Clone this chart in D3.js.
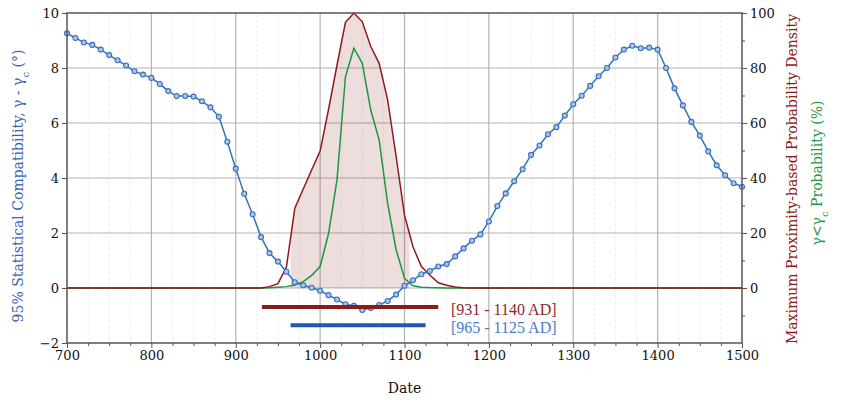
<!DOCTYPE html>
<html>
<head>
<meta charset="utf-8">
<script src="https://cdn.jsdelivr.net/npm/d3@7/dist/d3.min.js"></script>
<style>
  body { margin: 0; background: #fff; }
  svg { display: block; }
  text { font-family: "DejaVu Serif", serif; }
</style>
</head>
<body>
<div id="chart"></div>
<script>
// compatibility curve, every 10 years (left axis, degrees)
const compatYears = [700,710,720,730,740,750,760,770,780,790,800,810,820,830,840,850,860,870,880,890,
  900,910,920,930,940,950,960,970,980,990,1000,1010,1020,1030,1040,1050,1060,1070,1080,1090,
  1100,1110,1120,1130,1140,1150,1160,1170,1180,1190,1200,1210,1220,1230,1240,1250,1260,1270,1280,1290,
  1300,1310,1320,1330,1340,1350,1360,1370,1380,1390,1400,1410,1420,1430,1440,1450,1460,1470,1480,1490,1500];
const compatVals = [9.26,9.09,8.93,8.84,8.67,8.47,8.28,8.09,7.88,7.76,7.64,7.42,7.16,6.98,6.98,6.96,6.79,6.57,6.23,5.32,
  4.34,3.43,2.68,1.85,1.27,0.96,0.59,0.21,0.10,0.01,-0.10,-0.26,-0.42,-0.59,-0.65,-0.80,-0.73,-0.62,-0.47,-0.24,
  0.08,0.28,0.50,0.62,0.78,0.87,1.15,1.44,1.72,1.95,2.42,2.98,3.44,3.88,4.32,4.84,5.18,5.59,5.85,6.27,
  6.68,6.99,7.35,7.70,8.00,8.38,8.67,8.81,8.72,8.74,8.67,8.00,7.26,6.64,6.04,5.54,4.97,4.46,4.10,3.81,3.68];

// probability curves (right axis)
const probYears = [700,920,930,940,950,960,970,980,990,1000,1010,1020,1030,1040,1050,1060,1070,1080,1090,
  1100,1110,1120,1130,1140,1150,1160,1170,1180,1500];
const densityVals = [0,0,0,0.5,1.6,7.5,29,36,43,49.8,65,81,96.6,100,96.8,87.8,81.7,68.4,48,
  26.5,15,7.8,4.7,1.9,1.0,0.4,0.1,0,0];
const belowVals = [0,0,0,0.1,0.3,0.5,1.1,2.3,4.6,7.8,19.8,39.3,76.8,87.2,81.7,64.7,53.8,30.8,14,
  3.5,0.8,0.3,0.15,0.08,0.04,0.02,0,0,0];

// shaded interval of the density curve
const shadeRange = [965, 1106];

// date ranges shown as bars
const rangeNames = ["[931 - 1140 AD]", "[965 - 1125 AD]"];
const rangeStart = [931, 965];
const rangeEnd = [1140, 1125];
const rangeLevel = [-0.69, -1.35];

const xTicks = [700,800,900,1000,1100,1200,1300,1400,1500];
const yTicks = [-2,0,2,4,6,8,10];
const rTicks = [0,20,40,60,80,100];

const W = 843, H = 405;
const margin = {top: 13, right: 101, bottom: 62, left: 67};
const w = W - margin.left - margin.right, h = H - margin.top - margin.bottom;

const blue = "#2a78b8", red = "#8b1a1a", green = "#1b9641";

const svg = d3.select("#chart").append("svg").attr("width", W).attr("height", H);
const g = svg.append("g").attr("transform", "translate(" + margin.left + "," + margin.top + ")");

const x = d3.scaleLinear().domain([700, 1500]).range([0, w]);
const y = d3.scaleLinear().domain([-2, 10]).range([h, 0]);
const yR = d3.scaleLinear().domain([-20, 100]).range([h, 0]);

// minor vertical grid
const minorX = d3.range(725, 1500, 25).filter(v => v % 100 !== 0);
g.append("g").selectAll("line").data(minorX).join("line")
  .attr("x1", d => x(d)).attr("x2", d => x(d)).attr("y1", 0).attr("y2", h)
  .attr("stroke", "#efefef").attr("stroke-dasharray", "4,2").attr("stroke-width", 1);

// major grid
g.append("g").selectAll("line").data(xTicks.slice(1, -1)).join("line")
  .attr("x1", d => x(d)).attr("x2", d => x(d)).attr("y1", 0).attr("y2", h)
  .attr("stroke", "#b4b4b4").attr("stroke-width", 1.2);
g.append("g").selectAll("line").data(yTicks.slice(1, -1)).join("line")
  .attr("x1", 0).attr("x2", w).attr("y1", d => y(d)).attr("y2", d => y(d))
  .attr("stroke", "#b4b4b4").attr("stroke-width", 1.2);

// shaded area under density
const probData = probYears.map((yr, i) => ({yr: yr, d: densityVals[i], p: belowVals[i]}));
const densityAt = yr => d3.scaleLinear().domain(probYears).range(densityVals)(yr);
const shadeData = [{yr: shadeRange[0], d: densityAt(shadeRange[0])}]
  .concat(probData.filter(p => p.yr > shadeRange[0] && p.yr < shadeRange[1]))
  .concat([{yr: shadeRange[1], d: densityAt(shadeRange[1])}]);
g.append("path").datum(shadeData)
  .attr("d", d3.area().x(d => x(d.yr)).y0(yR(0)).y1(d => yR(d.d)))
  .attr("fill", red).attr("fill-opacity", 0.15);

// green probability line
g.append("path").datum(probData)
  .attr("d", d3.line().x(d => x(d.yr)).y(d => yR(d.p)))
  .attr("fill", "none").attr("stroke", green).attr("stroke-width", 1.5);

// red density line
g.append("path").datum(probData)
  .attr("d", d3.line().x(d => x(d.yr)).y(d => yR(d.d)))
  .attr("fill", "none").attr("stroke", red).attr("stroke-width", 1.5);

// blue compatibility line with markers
const compat = compatYears.map((yr, i) => ({yr: yr, v: compatVals[i]}));
g.append("path").datum(compat)
  .attr("d", d3.line().x(d => x(d.yr)).y(d => y(d.v)))
  .attr("fill", "none").attr("stroke", blue).attr("stroke-width", 1.5);
g.append("g").selectAll("circle").data(compat).join("circle")
  .attr("cx", d => x(d.yr)).attr("cy", d => y(d.v)).attr("r", 2.5)
  .attr("fill", "#a9c5ea").attr("stroke", "#3a6cc2").attr("stroke-width", 1.1);

// range bars + labels
const barColors = [red, "#2258b0"];
const labelColors = ["#8b2a2a", "#4a7cc8"];
rangeNames.forEach((name, i) => {
  g.append("line")
    .attr("x1", x(rangeStart[i])).attr("x2", x(rangeEnd[i]))
    .attr("y1", y(rangeLevel[i])).attr("y2", y(rangeLevel[i]))
    .attr("stroke", barColors[i]).attr("stroke-width", 4);
  g.append("text")
    .attr("x", x(1155)).attr("y", y(rangeLevel[i]) + 8)
    .attr("fill", labelColors[i])
    .style("font-family", "'Liberation Serif', serif").style("font-size", "16px")
    .text(name);
});

// axes
const axisStyle = sel => {
  sel.select(".domain").remove();
  sel.selectAll(".tick line").attr("stroke", "#555");
  sel.selectAll(".tick text").attr("fill", "#111").style("font-family", "'DejaVu Serif', serif").style("font-size", "13px");
};

g.append("g").attr("transform", "translate(0," + h + ")")
  .call(d3.axisBottom(x).tickValues(minorX).tickSize(3).tickFormat(""))
  .call(axisStyle);
g.append("g").attr("transform", "translate(0," + h + ")")
  .call(d3.axisBottom(x).tickValues(xTicks).tickSize(5).tickPadding(3).tickFormat(d3.format("d")))
  .call(axisStyle);

g.append("g")
  .call(d3.axisLeft(y).tickValues(yTicks).tickSize(5).tickPadding(3).tickFormat(d => d < 0 ? "\u2212" + Math.abs(d) : d))
  .call(axisStyle);

g.append("g").attr("transform", "translate(" + w + ",0)")
  .call(d3.axisRight(yR).tickValues(d3.range(-10, 100, 20)).tickSize(3).tickFormat(""))
  .call(axisStyle);
g.append("g").attr("transform", "translate(" + w + ",0)")
  .call(d3.axisRight(yR).tickValues(rTicks).tickSize(5).tickPadding(3))
  .call(axisStyle);

// frame
g.append("rect").attr("width", w).attr("height", h)
  .attr("fill", "none").attr("stroke", "#555").attr("stroke-width", 1.5);

// axis titles
svg.append("text")
  .attr("transform", "translate(" + (margin.left + w / 2) + ",393)")
  .attr("text-anchor", "middle").style("font-size", "14px").attr("fill", "#111")
  .text("Date");

const leftTitle = svg.append("text")
  .attr("transform", "translate(23,186) rotate(-90)")
  .attr("text-anchor", "middle").attr("fill", "#3a62b8").style("font-size", "14px");
leftTitle.append("tspan").text("95% Statistical Compatibility, \u03b3 - \u03b3");
leftTitle.append("tspan").attr("baseline-shift", "sub").style("font-size", "10px").text("c");
leftTitle.append("tspan").text(" (\u00b0)");

svg.append("text")
  .attr("transform", "translate(797,179) rotate(-90)")
  .attr("text-anchor", "middle").attr("fill", red).style("font-size", "14px")
  .text("Maximum Proximity-based Probability Density");

const greenTitle = svg.append("text")
  .attr("transform", "translate(822,173) rotate(-90)")
  .attr("text-anchor", "middle").attr("fill", "#1f9a40").style("font-size", "14px");
greenTitle.append("tspan").text("\u03b3<\u03b3");
greenTitle.append("tspan").attr("baseline-shift", "sub").style("font-size", "10px").text("c");
greenTitle.append("tspan").text(" Probability (%)");
</script>
</body>
</html>
